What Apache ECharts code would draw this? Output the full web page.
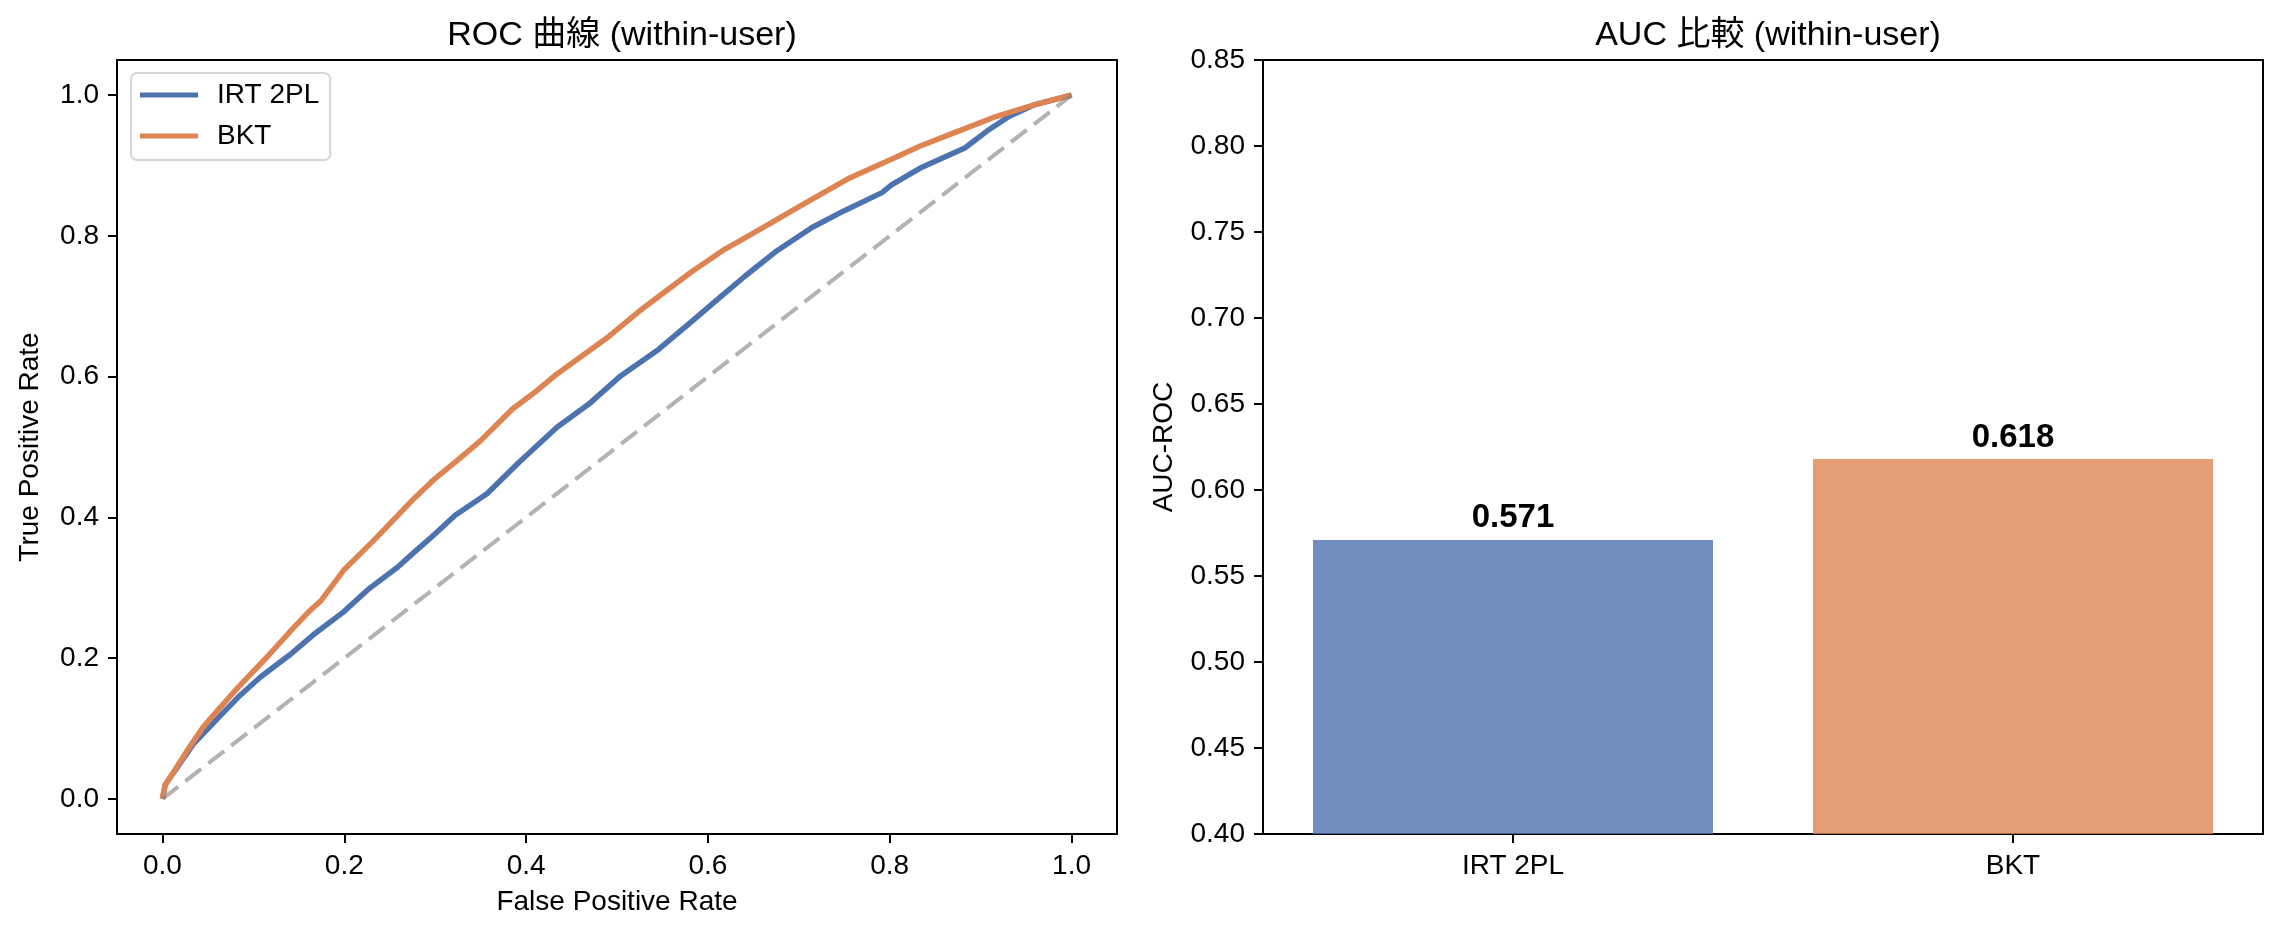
<!DOCTYPE html>
<html>
<head>
<meta charset="utf-8">
<script src="https://cdn.jsdelivr.net/npm/echarts@6/dist/echarts.min.js"></script>
<style>
html,body{margin:0;padding:0;background:#fff;}
#c{width:2283px;height:935px;}
</style>
</head>
<body>
<div id="c"></div>
<script>
// ROC curve data
const irtFpr = [0, 0.003, 0.017, 0.0346, 0.0627, 0.0837, 0.1082, 0.1398, 0.1678, 0.1993, 0.2274, 0.2589, 0.273, 0.294, 0.322, 0.357, 0.392, 0.434, 0.469, 0.504, 0.546, 0.581, 0.609, 0.641, 0.676, 0.7145, 0.7495, 0.7915, 0.802, 0.8336, 0.8826, 0.907, 0.9316, 0.9598, 1.0];
const irtTpr = [0, 0.02, 0.046, 0.079, 0.1168, 0.145, 0.1735, 0.2043, 0.235, 0.2657, 0.2988, 0.3295, 0.346, 0.3697, 0.403, 0.4336, 0.478, 0.528, 0.561, 0.601, 0.639, 0.677, 0.708, 0.743, 0.779, 0.812, 0.8355, 0.8615, 0.8725, 0.8965, 0.925, 0.949, 0.970, 0.9866, 1.0];
const bktFpr = [0, 0.003, 0.0136, 0.0277, 0.0452, 0.0627, 0.0837, 0.1153, 0.1433, 0.1608, 0.1748, 0.1993, 0.2344, 0.2589, 0.2765, 0.2975, 0.322, 0.350, 0.385, 0.4096, 0.434, 0.490, 0.525, 0.581, 0.616, 0.651, 0.7075, 0.7565, 0.8055, 0.8336, 0.8756, 0.9176, 0.9598, 0.998, 1.0];
const bktTpr = [0, 0.02, 0.041, 0.0695, 0.1026, 0.1286, 0.159, 0.2019, 0.242, 0.2657, 0.2823, 0.3248, 0.3698, 0.4028, 0.4265, 0.4525, 0.4785, 0.509, 0.554, 0.5778, 0.6038, 0.656, 0.6936, 0.748, 0.779, 0.8047, 0.847, 0.8827, 0.911, 0.9277, 0.949, 0.970, 0.9866, 0.9995, 1.0];
const diagX = [0, 1];
const diagY = [0, 1];
const rocTicks = [0, 0.2, 0.4, 0.6, 0.8, 1.0];

// AUC bar data
const models = ['IRT 2PL', 'BKT'];
const aucValues = [0.571, 0.618];
const barColors = ['rgba(76,114,176,0.8)', 'rgba(221,132,82,0.8)'];

const FONT = "'Liberation Sans', 'Noto Sans CJK JP', sans-serif";
const zip = (a, b) => a.map((v, i) => [v, b[i]]);

const chart = echarts.init(document.getElementById('c'), null, {renderer: 'canvas'});

const axisCommon = {
  axisLine: {show: true, onZero: false, lineStyle: {color: '#000', width: 2}},
  axisTick: {show: true, length: 9, lineStyle: {color: '#000', width: 2}},
  splitLine: {show: false},
  nameLocation: 'middle',
  nameTextStyle: {fontSize: 28, color: '#000', fontFamily: FONT}
};
const labelCommon = {fontSize: 28, color: '#000', fontFamily: FONT, margin: 18};

const option = {
  animation: false,
  backgroundColor: '#fff',
  textStyle: {fontFamily: FONT},
  title: [
    {text: 'ROC 曲線 (within-user)', left: 617, top: 14, textAlign: 'center',
     textStyle: {fontSize: 34, fontWeight: 'normal', color: '#000', fontFamily: FONT}},
    {text: 'AUC 比較 (within-user)', left: 1763, top: 14, textAlign: 'center',
     textStyle: {fontSize: 34, fontWeight: 'normal', color: '#000', fontFamily: FONT}}
  ],
  legend: {
    left: 131, top: 73, orient: 'vertical',
    data: ['IRT 2PL', 'BKT'],
    icon: 'rect', itemWidth: 58, itemHeight: 5, itemGap: 9,
    padding: [6, 11, 8, 9],
    borderColor: '#d6d6d6', borderWidth: 2, borderRadius: 6,
    backgroundColor: '#fff',
    textStyle: {fontSize: 28, lineHeight: 32, color: '#000', fontFamily: FONT, padding: [0, 0, 0, 14]}
  },
  grid: [
    {left: 117, top: 60, width: 1000, height: 774, show: true, borderColor: '#000', borderWidth: 2, containLabel: false},
    {left: 1263, top: 60, width: 1000, height: 774, show: true, borderColor: '#000', borderWidth: 2, containLabel: false}
  ],
  xAxis: [
    Object.assign({}, axisCommon, {
      type: 'value', gridIndex: 0, min: -0.05, max: 1.05,
      axisTick: Object.assign({}, axisCommon.axisTick, {customValues: rocTicks}),
      axisLabel: Object.assign({}, labelCommon, {customValues: rocTicks, formatter: v => v.toFixed(1)}),
      name: 'False Positive Rate', nameGap: 54
    }),
    Object.assign({}, axisCommon, {
      type: 'category', gridIndex: 1, data: models,
      axisTick: Object.assign({}, axisCommon.axisTick, {alignWithLabel: true}),
      axisLabel: Object.assign({}, labelCommon)
    })
  ],
  yAxis: [
    Object.assign({}, axisCommon, {
      type: 'value', gridIndex: 0, min: -0.05, max: 1.05,
      axisTick: Object.assign({}, axisCommon.axisTick, {customValues: rocTicks}),
      axisLabel: Object.assign({}, labelCommon, {customValues: rocTicks, formatter: v => v.toFixed(1)}),
      name: 'True Positive Rate', nameGap: 73, nameRotate: 90
    }),
    Object.assign({}, axisCommon, {
      type: 'value', gridIndex: 1, min: 0.4, max: 0.85, interval: 0.05,
      axisLabel: Object.assign({}, labelCommon, {formatter: v => v.toFixed(2)}),
      name: 'AUC-ROC', nameGap: 85, nameRotate: 90
    })
  ],
  series: [
    {name: 'IRT 2PL', type: 'line', xAxisIndex: 0, yAxisIndex: 0, data: zip(irtFpr, irtTpr),
     showSymbol: false, symbol: 'none', smooth: false, color: '#4C72B0',
     lineStyle: {color: '#4C72B0', width: 5.5}, z: 3},
    {name: 'BKT', type: 'line', xAxisIndex: 0, yAxisIndex: 0, data: zip(bktFpr, bktTpr),
     showSymbol: false, symbol: 'none', smooth: false, color: '#DD8452',
     lineStyle: {color: '#DD8452', width: 5.5}, z: 4},
    {name: 'diag', type: 'line', xAxisIndex: 0, yAxisIndex: 0, data: zip(diagX, diagY),
     showSymbol: false, symbol: 'none', silent: true,
     lineStyle: {color: 'rgba(128,128,128,0.6)', width: 4, type: [20, 9]}, z: 5},
    {name: 'AUC', type: 'bar', xAxisIndex: 1, yAxisIndex: 1, barWidth: '80%',
     data: aucValues.map((v, i) => ({value: v, itemStyle: {color: barColors[i]}})),
     label: {show: true, position: 'top', distance: 5, formatter: p => p.value.toFixed(3),
             fontSize: 33, fontWeight: 'bold', color: '#000', fontFamily: FONT}}
  ]
};
chart.setOption(option);
</script>
</body>
</html>
